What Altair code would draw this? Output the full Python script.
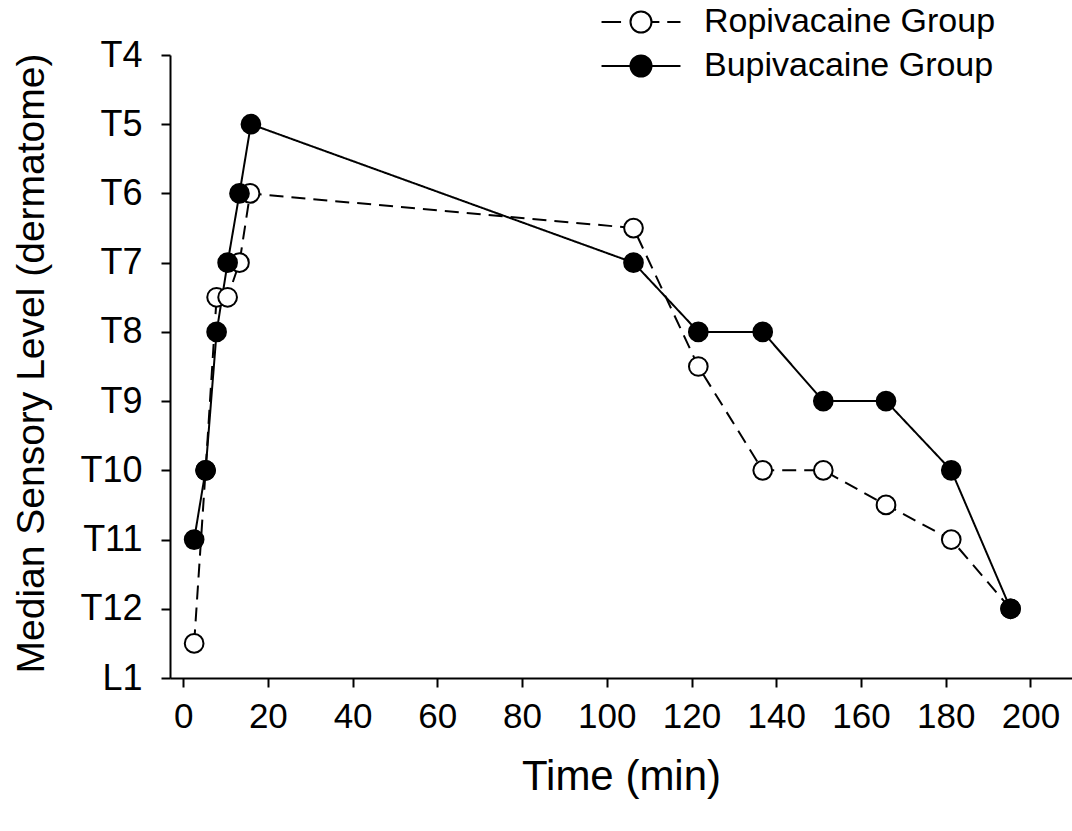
import altair as alt
import pandas as pd

# Median sensory block level over time for the two study groups
groups = ["Ropivacaine Group", "Bupivacaine Group"]

ropi_time = [2.6, 5.3, 7.9, 10.5, 13.3, 15.8, 106.3, 121.6, 136.8, 151.1, 165.9, 181.3, 195.3]
ropi_level = [12.5, 10, 7.5, 7.5, 7, 6, 6.5, 8.5, 10, 10, 10.5, 11, 12]

bupi_time = [2.6, 5.3, 7.9, 10.5, 13.3, 16.0, 106.3, 121.6, 136.8, 151.1, 165.9, 181.3, 195.3]
bupi_level = [11, 10, 8, 7, 6, 5, 7, 8, 8, 9, 9, 10, 12]

# dermatome levels on the y axis: 4..12 are T4..T12, 13 is L1
level_ticks = [4, 5, 6, 7, 8, 9, 10, 11, 12, 13]
time_ticks = [0, 20, 40, 60, 80, 100, 120, 140, 160, 180, 200]

# legend keys: a circle with the line style drawn through it (unit radius = circle)
CIRCLE = "M1,0 A1,1 0 1,1 -1,0 A1,1 0 1,1 1,0 Z"
KEY_DASHED = "M-3.76,0 L-1.9,0 M1,0 L1.75,0 M2.5,0 L3.76,0 " + CIRCLE
KEY_SOLID = "M-3.76,0 L-1,0 M1,0 L3.76,0 " + CIRCLE

rows = []
for t, v in zip(ropi_time, ropi_level):
    rows.append({"Time": t, "Level": v, "Group": groups[0]})
for t, v in zip(bupi_time, bupi_level):
    rows.append({"Time": t, "Level": v, "Group": groups[1]})
df = pd.DataFrame(rows)
df["order"] = range(len(df))

FONT = "Liberation Sans"

legend_style = dict(
    title=None,
    orient="none",
    legendX=454,
    legendY=-50,
    symbolSize=441,
    symbolStrokeWidth=2,
    symbolOpacity=1,
    labelFontSize=34,
    labelFont=FONT,
    labelColor="black",
    labelOffset=46,
    labelLimit=500,
    rowPadding=10,
    padding=0,
)

x = alt.X(
    "Time:Q",
    scale=alt.Scale(domain=[-3.1, 209.8], nice=False, zero=False),
    axis=alt.Axis(
        values=time_ticks,
        title="Time (min)",
        titleFontSize=42,
        titlePadding=22,
        labelFontSize=35,
        labelPadding=12,
        tickSize=9,
        grid=False,
    ),
)
y = alt.Y(
    "Level:Q",
    scale=alt.Scale(domain=[4, 13], reverse=True, nice=False, zero=False),
    axis=alt.Axis(
        values=level_ticks,
        labelExpr="datum.value == 13 ? 'L1' : 'T' + datum.value",
        title="Median Sensory Level (dermatome)",
        titleFontSize=39,
        titleX=-127,
        titleY=308,
        titleAngle=-90,
        titleAlign="center",
        titleBaseline="alphabetic",
        labelFontSize=36,
        labelPadding=19,
        tickSize=9,
        grid=False,
    ),
)

lines = alt.Chart(df).mark_line(color="black", strokeWidth=2).encode(
    x=x,
    y=y,
    order="order:Q",
    strokeDash=alt.StrokeDash(
        "Group:N",
        sort=groups,
        scale=alt.Scale(range=[[14, 8], [1, 0]]),
        legend=None,
    ),
)

points = alt.Chart(df).mark_point(
    filled=True, stroke="black", strokeWidth=2, size=350, opacity=1
).encode(
    x=x,
    y=y,
    fill=alt.Fill(
        "Group:N",
        scale=alt.Scale(domain=groups, range=["white", "black"]),
        legend=alt.Legend(**legend_style),
    ),
)

# invisible layer that only supplies the legend key shapes and outlines
keys = alt.Chart(df).mark_point(filled=True, strokeWidth=2, opacity=0).encode(
    x=x,
    y=y,
    shape=alt.Shape(
        "Group:N",
        scale=alt.Scale(domain=groups, range=[KEY_DASHED, KEY_SOLID]),
        legend=alt.Legend(**legend_style),
    ),
    stroke=alt.Stroke(
        "Group:N",
        scale=alt.Scale(domain=groups, range=["black", "black"]),
        legend=alt.Legend(**legend_style),
    ),
)

chart = (
    alt.layer(lines, points, keys)
    .properties(
        width=902,
        height=623,
        padding={"left": 170, "top": 55, "right": 0, "bottom": 153},
        autosize=alt.AutoSizeParams(type="none"),
    )
    .configure(font=FONT)
    .configure_view(stroke=None)
    .configure_axis(
        domainColor="black",
        domainWidth=2,
        tickColor="black",
        tickWidth=2,
        labelColor="black",
        titleColor="black",
        labelFont=FONT,
        titleFont=FONT,
        titleFontWeight="normal",
    )
)

chart.save("out.html", embed_options={"renderer": "svg", "actions": False})
